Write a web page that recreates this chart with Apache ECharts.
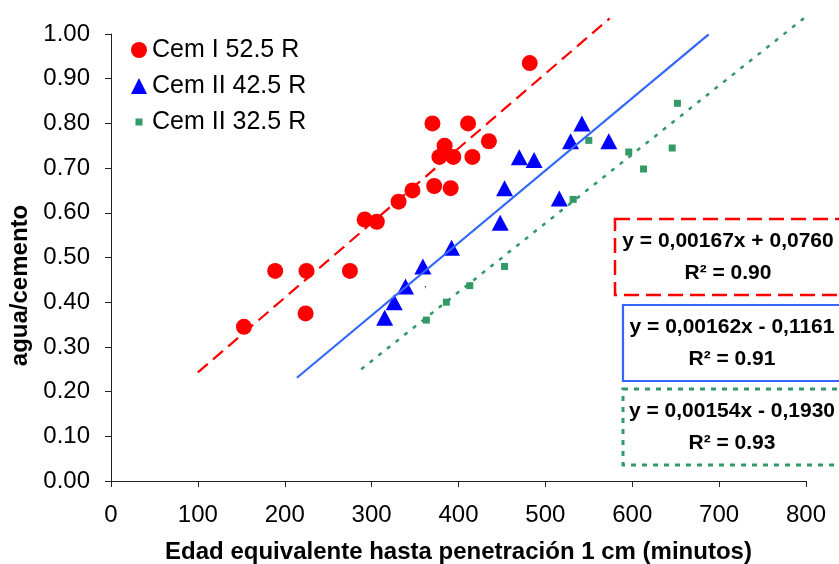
<!DOCTYPE html>
<html><head><meta charset="utf-8">
<script src="https://cdn.jsdelivr.net/npm/echarts@6/dist/echarts.min.js"></script>
<style>html,body{margin:0;padding:0;background:#fff}#c{width:839px;height:564px}</style>
</head><body><div id="c"></div>
<script>
// ---- data ----
const seriesNames = ['Cem I 52.5 R', 'Cem II 42.5 R', 'Cem II 32.5 R'];
const redX = [153, 189, 225, 224, 275, 292, 306, 331, 347, 370, 372, 378, 384, 391, 394, 411, 416, 435, 482];
const redY = [0.345, 0.47, 0.47, 0.375, 0.47, 0.585, 0.58, 0.625, 0.65, 0.80, 0.66, 0.725, 0.75, 0.655, 0.725, 0.80, 0.725, 0.76, 0.935];
const blueX = [315, 326, 339, 359, 392, 448, 453, 470, 487, 516, 529, 542, 573];
const blueY = [0.365, 0.40, 0.435, 0.48, 0.522, 0.578, 0.655, 0.724, 0.718, 0.632, 0.76, 0.80, 0.76];
const greenX = [363, 386, 413, 453, 532, 550, 596, 613, 646, 652];
const greenY = [0.36, 0.40, 0.437, 0.48, 0.63, 0.762, 0.736, 0.698, 0.745, 0.845];
// trend line end points (as drawn)
const redTrendX = [100, 574], redTrendY = [0.243, 1.035];
const blueTrendX = [214, 688], blueTrendY = [0.231, 0.999];
const greenTrendX = [288, 802], greenTrendY = [0.250, 1.042];
const equations = ['y = 0,00167x + 0,0760', 'y = 0,00162x - 0,1161', 'y = 0,00154x - 0,1930'];
const r2Labels = ['R\u00B2 = 0.90', 'R\u00B2 = 0.91', 'R\u00B2 = 0.93'];
const xTitle = 'Edad equivalente hasta penetración 1 cm (minutos)';
const yTitle = 'agua/cemento';

const zip = (a, b) => a.map((v, i) => [v, b[i]]);
const FONT = '"Liberation Sans", Arial, sans-serif';
const RED = '#FF0000', BLUE = '#0000FF', GREEN = '#339966', BLUE_LINE = '#3366FF';

const chart = echarts.init(document.getElementById('c'), null, {renderer: 'canvas'});

function eqBox(i, y, color, dash, lw, cx) {
  return [
    {type: 'rect', shape: {x: i === 0 ? 615 : 623, y: y, width: 260, height: 76},
     style: {fill: '#fff', stroke: color, lineWidth: lw, lineDash: dash}, z: 50},
    {type: 'text', x: cx, y: y + 22, z: 51,
     style: {text: equations[i], font: 'bold 21px ' + FONT, fill: '#000', textAlign: 'center', textVerticalAlign: 'middle'}},
    {type: 'text', x: cx, y: y + 54, z: 51,
     style: {text: r2Labels[i], font: 'bold 21px ' + FONT, fill: '#000', textAlign: 'center', textVerticalAlign: 'middle'}}
  ];
}

const option = {
  animation: false,
  backgroundColor: '#fff',
  textStyle: {fontFamily: FONT},
  grid: {left: 111, right: 33, top: 34, bottom: 83, containLabel: false, outerBoundsMode: 'none'},
  legend: {
    orient: 'vertical', left: 126, top: 30, padding: 5, itemWidth: 16, itemHeight: 16, itemGap: 6,
    textStyle: {fontSize: 25, color: '#000', fontFamily: FONT, lineHeight: 30},
    data: [
      {name: seriesNames[0], icon: 'circle'},
      {name: seriesNames[1], icon: 'triangle'},
      {name: seriesNames[2], icon: 'path://M0,0M16,16M4.5,4.5h7v7h-7z'}
    ]
  },
  xAxis: {
    type: 'value', min: 0, max: 800, interval: 100,
    name: xTitle, nameLocation: 'middle', nameGap: 59,
    nameTextStyle: {fontSize: 24, fontWeight: 'bold', color: '#000', fontFamily: FONT},
    axisLine: {lineStyle: {color: '#222', width: 1}},
    axisTick: {show: true, inside: false, length: 6, lineStyle: {color: '#222'}},
    axisLabel: {fontSize: 24, color: '#000', margin: 22, fontFamily: FONT},
    splitLine: {show: false}
  },
  yAxis: {
    type: 'value', min: 0, max: 1, interval: 0.1,
    name: yTitle, nameLocation: 'middle', nameGap: 76, nameRotate: 90,
    nameTextStyle: {fontSize: 24, fontWeight: 'bold', color: '#000', fontFamily: FONT, padding: [0, 56, 0, 0]},
    axisLine: {show: true, lineStyle: {color: '#222', width: 1}},
    axisTick: {show: true, inside: false, length: 6, lineStyle: {color: '#222'}},
    axisLabel: {fontSize: 24, color: '#000', margin: 21, fontFamily: FONT, formatter: v => v.toFixed(2)},
    splitLine: {show: false}
  },
  series: [
    {name: seriesNames[0], type: 'scatter', symbol: 'circle', symbolSize: 16,
     itemStyle: {color: RED, opacity: 1}, data: zip(redX, redY), z: 2},
    {name: seriesNames[1], type: 'scatter', symbol: 'triangle', symbolSize: [17, 16],
     itemStyle: {color: BLUE, opacity: 1}, data: zip(blueX, blueY), z: 2},
    {name: seriesNames[2], type: 'scatter', symbol: 'rect', symbolSize: 7,
     itemStyle: {color: GREEN, opacity: 1}, data: zip(greenX, greenY), z: 2},
    {name: 'trend1', type: 'line', data: zip(redTrendX, redTrendY), showSymbol: false, symbol: 'none', clip: false,
     lineStyle: {color: RED, width: 2.2, type: [13, 7]}, z: 3, silent: true},
    {name: 'trend2', type: 'line', data: zip(blueTrendX, blueTrendY), showSymbol: false, symbol: 'none', clip: false,
     lineStyle: {color: BLUE_LINE, width: 2.2, type: 'solid'}, z: 3, silent: true},
    {name: 'trend3', type: 'line', data: zip(greenTrendX, greenTrendY), showSymbol: false, symbol: 'none', clip: false,
     lineStyle: {color: GREEN, width: 2.5, type: [4, 7]}, z: 3, silent: true}
  ],
  graphic: [].concat(
    eqBox(0, 219, RED, [15, 7], 2.5, 728),
    eqBox(1, 305, BLUE_LINE, null, 2.2, 732),
    eqBox(2, 389, GREEN, [5, 6], 3, 732),
    [{type: 'text', x: 424, y: 280, style: {text: ',', font: '9px ' + FONT, fill: '#000'}, z: 10}]
  )
};
chart.setOption(option);
</script>
</body></html>
